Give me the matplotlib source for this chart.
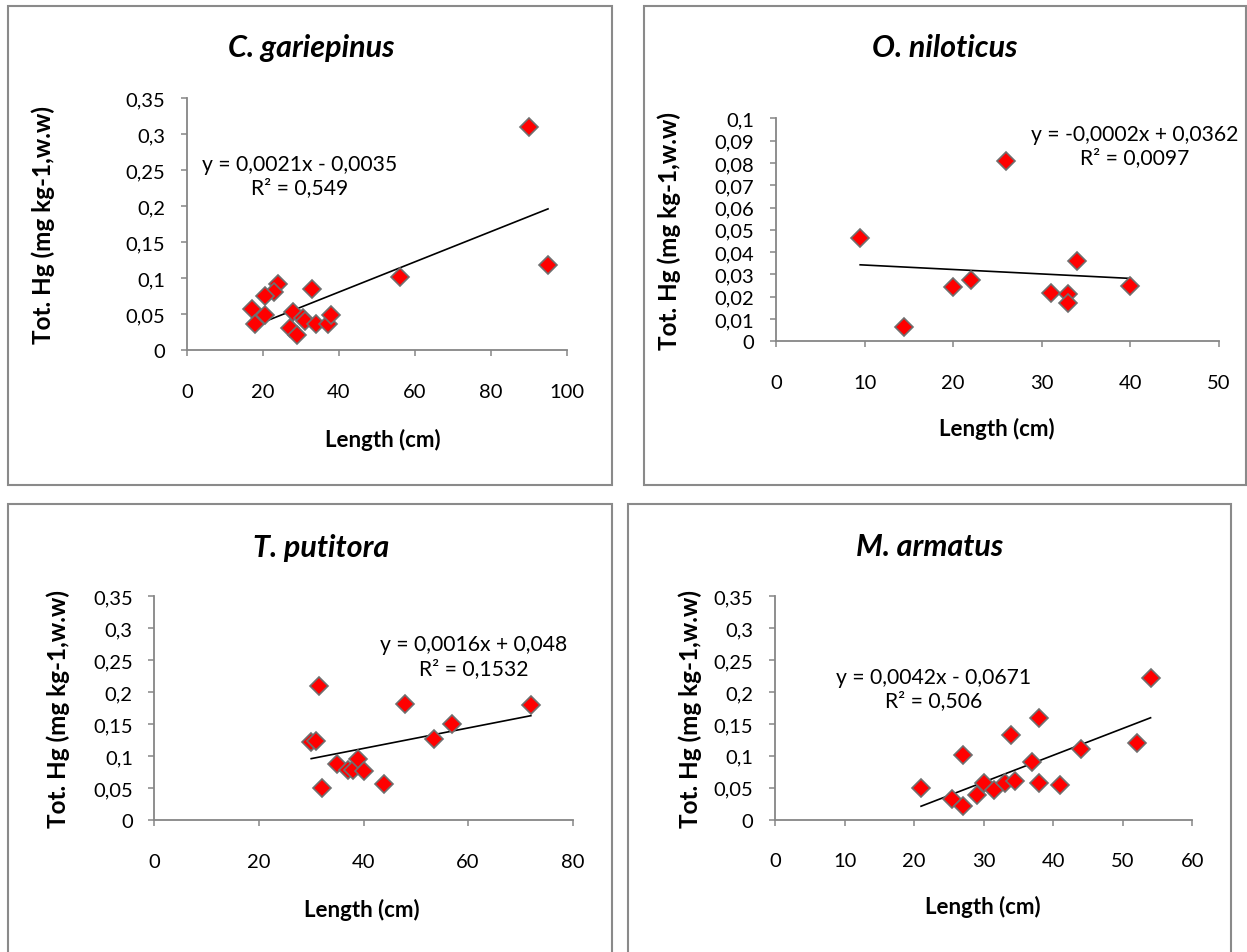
import matplotlib
matplotlib.use("Agg")
import matplotlib.pyplot as plt
from matplotlib.patches import Rectangle
import numpy as np

plt.rcParams['font.family'] = ['Lato', 'DejaVu Sans']

# ---------------- data ----------------
titles = ["C. gariepinus", "O. niloticus", "T. putitora", "M. armatus"]

cg_len = [90, 95, 56, 33, 24, 23, 20.5, 17, 20.5, 18, 28, 30.5, 31, 27, 29, 34, 37, 38]
cg_hg = [0.31, 0.118, 0.102, 0.085, 0.092, 0.081, 0.075, 0.057, 0.048, 0.036, 0.053, 0.045,
         0.040, 0.031, 0.021, 0.036, 0.036, 0.048]

on_len = [9.5, 14.5, 20, 22, 26, 31, 33, 33, 34, 40]
on_hg = [0.0465, 0.0063, 0.0245, 0.0277, 0.081, 0.0215, 0.021, 0.017, 0.036, 0.025]

tp_len = [31.5, 30, 31, 32, 35, 37, 38, 39, 40, 44, 48, 53.5, 57, 72]
tp_hg = [0.209, 0.122, 0.123, 0.05, 0.087, 0.078, 0.078, 0.095, 0.077, 0.056, 0.182, 0.126, 0.15, 0.18]

ma_len = [21, 25.5, 27, 27, 29, 30, 31.5, 33, 34.5, 34, 37, 38, 38, 41, 44, 52, 54]
ma_hg = [0.049, 0.032, 0.022, 0.101, 0.038, 0.058, 0.047, 0.058, 0.06, 0.132, 0.091, 0.159,
         0.057, 0.054, 0.11, 0.12, 0.222]

# trendline coefficients (slope, intercept) and labels
slopes = [0.0021, -0.0002, 0.0016, 0.0042]
intercepts = [-0.0035, 0.0362, 0.048, -0.0671]
eq_labels = ["y = 0,0021x - 0,0035\nR² = 0,549",
             "y = -0,0002x + 0,0362\nR² = 0,0097",
             "y = 0,0016x + 0,048\nR² = 0,1532",
             "y = 0,0042x - 0,0671\nR² = 0,506"]

x_limits = [(0, 100), (0, 50), (0, 80), (0, 60)]
x_steps = [20, 10, 20, 10]
y_limits = [(0, 0.35), (0, 0.1), (0, 0.35), (0, 0.35)]
y_steps = [0.05, 0.01, 0.05, 0.05]

xs = [cg_len, on_len, tp_len, ma_len]
ys = [cg_hg, on_hg, tp_hg, ma_hg]

# ---------------- layout ----------------
W, H = 1247, 953
fig = plt.figure(figsize=(W / 100, H / 100), dpi=100)

def fx(px):
    return px / W

def fy(py):
    return 1 - py / H

# axes rectangles in pixel coords (left, top, right, bottom)
ax_px = [(187, 99, 567, 351), (776, 119.3, 1219, 342.3),
         (154.3, 597.3, 572.7, 821), (775, 597.3, 1192.3, 820.7)]
# panel boxes (left, top, right, bottom)
box_px = [(8, 7, 612, 486), (644, 7, 1246, 486), (8, 505, 612, 1000), (628, 505, 1231, 1000)]
title_pos = [(311, 48), (945, 48), (321, 548), (930, 547)]
ylabel_pos = [(43, 225), (669, 231), (58, 709), (690, 709)]
xlabel_pos = [(383, 440), (997, 429), (362, 910), (983, 907)]
eq_pos = [(0.297, 0.694), (0.810, 0.876), (0.764, 0.733), (0.379, 0.587)]

gray = "#868686"

for (l, t, r, b) in box_px:
    fig.patches.append(Rectangle((fx(l), fy(b)), fx(r) - fx(l), fy(t) - fy(b),
                                 transform=fig.transFigure, fill=False,
                                 edgecolor="#8a8a8a", linewidth=1.5))

for i in range(4):
    l, t, r, b = ax_px[i]
    ax = fig.add_axes([fx(l), fy(b), fx(r) - fx(l), fy(t) - fy(b)])
    x = np.array(xs[i], dtype=float)
    y = np.array(ys[i], dtype=float)
    xl = np.array([x.min(), x.max()])
    ax.plot(xl, slopes[i] * xl + intercepts[i], color="black", linewidth=1.2, zorder=2)
    ax.plot(x, y, linestyle="none", marker="D", markersize=9.5, markerfacecolor="#ff0000",
            markeredgecolor="#6f6f6f", markeredgewidth=1.2, zorder=3, clip_on=False)
    ax.set_xlim(*x_limits[i])
    ax.set_ylim(*y_limits[i])
    xt = np.arange(x_limits[i][0], x_limits[i][1] + 1e-9, x_steps[i])
    yt = np.arange(y_limits[i][0], y_limits[i][1] + 1e-9, y_steps[i])
    ax.set_xticks(xt)
    ax.set_yticks(yt)
    ax.set_xticklabels([f"{v:g}" for v in xt])
    ax.set_yticklabels([("%g" % round(v, 4)).replace(".", ",") for v in yt])
    for s in ["top", "right"]:
        ax.spines[s].set_visible(False)
    for s in ["left", "bottom"]:
        ax.spines[s].set_color(gray)
        ax.spines[s].set_linewidth(1.3)
    ax.tick_params(axis="both", direction="out", length=4.5, width=1.1, color=gray,
                   labelsize=14.5, labelcolor="black")
    ax.tick_params(axis="x", pad=19)
    ax.tick_params(axis="y", pad=11)
    ax.patch.set_alpha(0)
    ax.text(eq_pos[i][0], eq_pos[i][1], eq_labels[i], transform=ax.transAxes,
            ha="center", va="center", multialignment="center", fontsize=15.2,
            linespacing=1.2)

    fig.text(fx(title_pos[i][0]), fy(title_pos[i][1]), titles[i], ha="center", va="center",
             fontsize=22, fontweight="bold", fontstyle="italic")
    fig.text(fx(ylabel_pos[i][0]), fy(ylabel_pos[i][1]), "Tot. Hg (mg kg-1,w.w)", ha="center",
             va="center", rotation=90, fontsize=17.5, fontweight="bold")
    fig.text(fx(xlabel_pos[i][0]), fy(xlabel_pos[i][1]), "Length (cm)", ha="center",
             va="center", fontsize=16, fontweight="bold")

fig.savefig("out.png", dpi=100)
